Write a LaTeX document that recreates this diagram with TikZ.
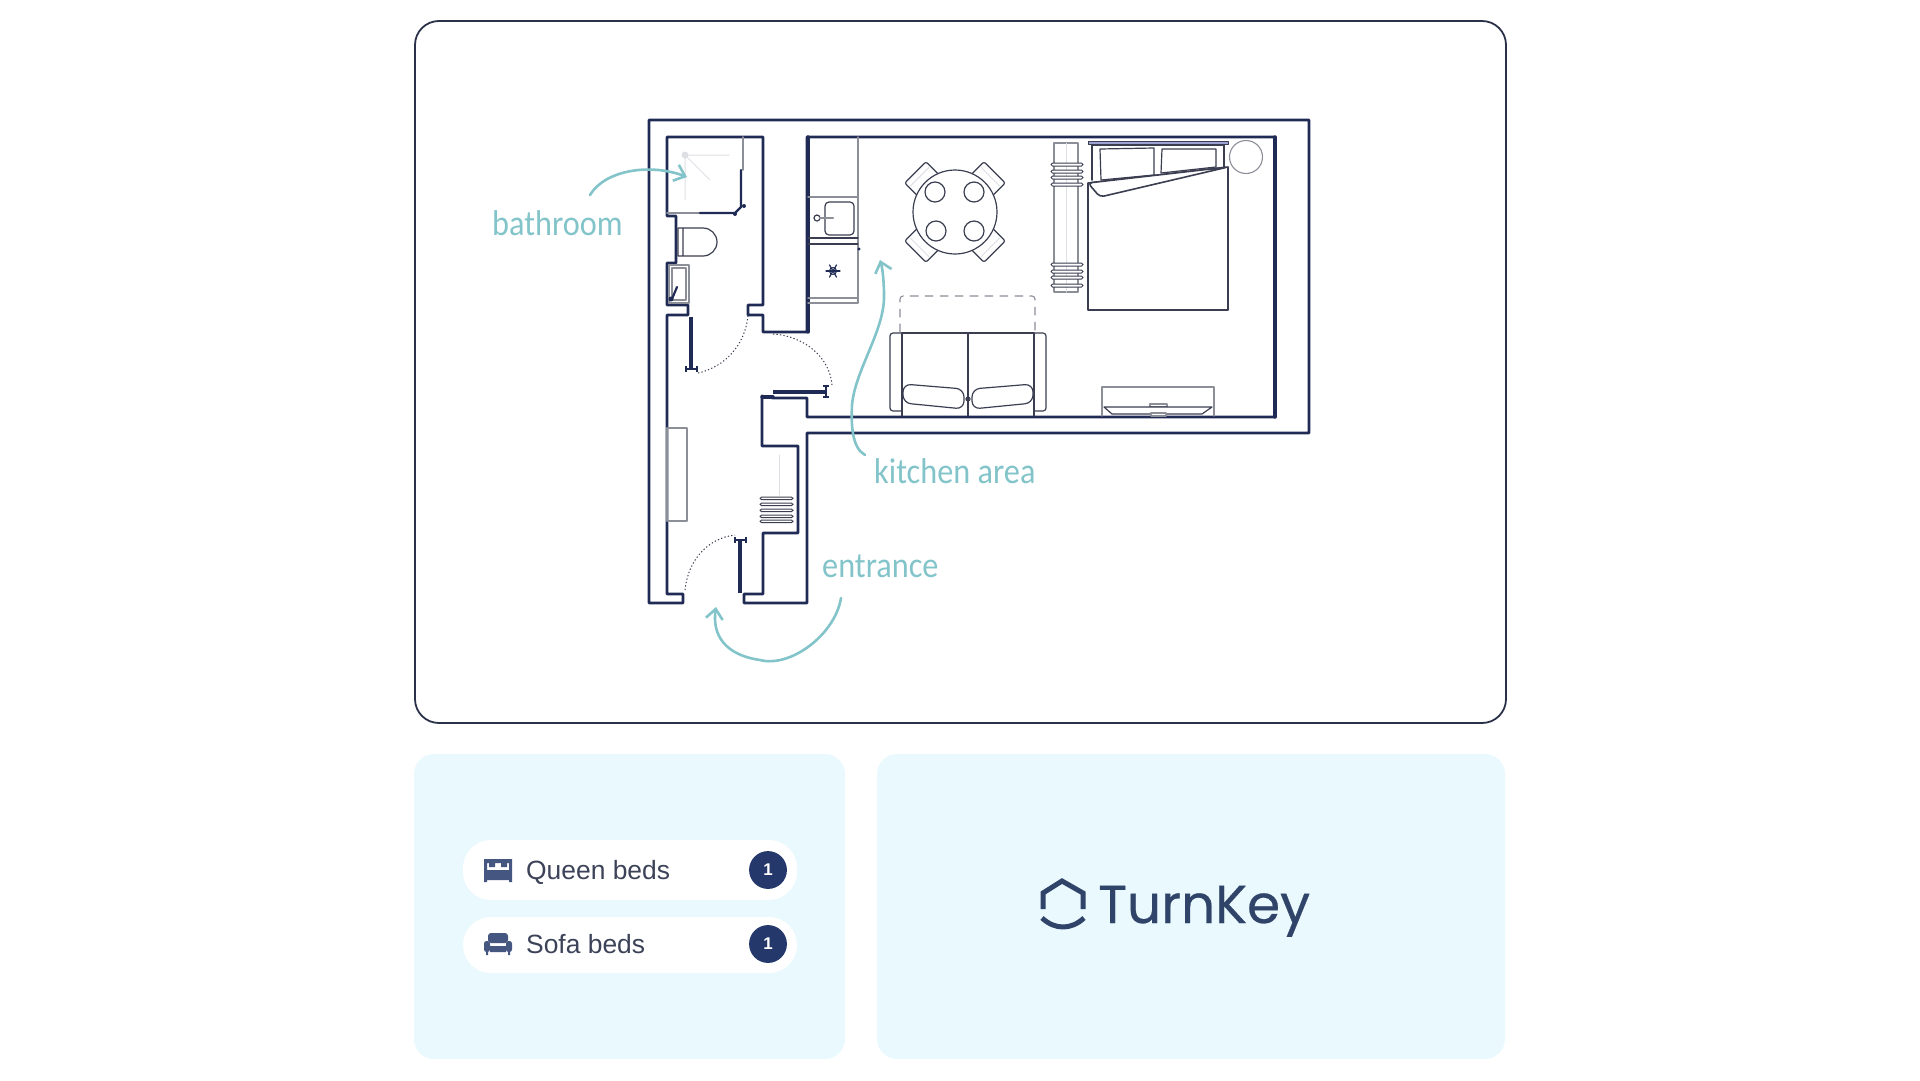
\documentclass[tikz,border=0pt]{standalone}
\usepackage{fontspec}
\setmainfont{Liberation Sans}
\newfontfamily\handfont[FakeStretch=0.9]{Carlito}
\newfontfamily\logofont[FakeBold=0.5]{Poppins}
\usetikzlibrary{arrows.meta}
\definecolor{wallcol}{HTML}{1F2A55}
\definecolor{framecol}{HTML}{2A3148}
\definecolor{panelcol}{HTML}{E9F9FE}
\definecolor{tealcol}{HTML}{82C4C9}
\definecolor{greycol}{HTML}{8C8E98}
\definecolor{palecol}{HTML}{DEDFE4}
\definecolor{linecol}{HTML}{3A3E50}
\definecolor{textcol}{HTML}{3C4258}
\definecolor{badgecol}{HTML}{24386B}
\definecolor{logocol}{HTML}{2F4468}
\definecolor{headcol}{HTML}{9CA2D2}
\tikzset{
  wall/.style={draw=wallcol,line width=2.7},
  doorpanel/.style={draw=wallcol,line width=3.6,line cap=butt},
  doorswing/.style={draw=linecol,line width=1,line cap=butt,dash pattern=on 1.3 off 2.2},
  furn/.style={draw=linecol,line width=1.2},
  thin furn/.style={draw=greycol,line width=1.1},
  pale/.style={draw=palecol,line width=1},
  guide/.style={draw=tealcol,line width=2.6,-{Straight Barb[length=10pt,width=17pt,line width=2.6]}},
  guidetext/.style={text=tealcol,font=\handfont\fontsize{36}{40}\selectfont,inner sep=0pt},
  pilltext/.style={text=textcol,font=\fontsize{26.5}{30}\selectfont,anchor=west,inner sep=0pt},
  pill/.style={fill=white,rounded corners=28},
  badge/.style={circle,fill=badgecol,text=white,minimum size=38,inner sep=0pt,font=\bfseries\fontsize{17}{20}\selectfont},
  panel/.style={fill=panelcol,rounded corners=20},
  icon/.style={fill=badgecol!85!white},
}
\begin{document}
\begin{tikzpicture}[x=1bp,y=-1bp,line cap=round,line join=round]
      \useasboundingbox (0,0) rectangle (1920,1080);
      % frame and panels
      \draw[framecol,line width=1.8,rounded corners=24] (415,21) rectangle (1506,723);
      \fill[panel] (414,754) rectangle (845,1059);
      \fill[panel] (877,754) rectangle (1505,1059);

      % walls
      \draw[wall] (649,120)--(1309,120)--(1309,433)--(807,433)--(807,603)--(744,603)
            --(744,594)--(763,594)--(763,533)--(798,533)--(798,446)--(762,446)--(762,396)
            --(773,398)--(807,398)--(807,417)--(1275,417)--(1275,137)--(807,137)--(807,332)
            --(763,332)--(763,315)--(748,315)--(748,305)--(763,305)--(763,137)--(667,137)
            --(667,216)--(676,216)--(676,263)--(667,263)--(667,305)--(688,305)--(688,315)
            --(667,315)--(667,594)--(683,594)--(683,603)--(649,603)--cycle;
      \draw[wall,line width=3.4] (808,137)--(808,332) (1275,137)--(1275,417) (762,397)--(773,397);

      % doors
      \draw[doorpanel] (691,317)--(691,370) (773,392)--(827,392) (740,540)--(740,593);
      \draw[doorpanel,line width=2.4] (686,369)--(698,369) (686,366)--(686,372) (697,366)--(697,372)
            (826,386)--(826,397) (823,386)--(829,386) (823,397)--(829,397)
            (735,540)--(746,540) (735,537)--(735,543) (746,537)--(746,543);
      \draw[doorswing] (698,373) .. controls (725,367) and (745,345) .. (748,316);
      \draw[doorswing] (773,334) .. controls (805,336) and (830,358) .. (832,385);
      \draw[doorswing] (685,590) .. controls (688,560) and (708,538) .. (735,535);

      % hall
      \draw[thin furn] (667,428) rectangle (687,521);
      \draw[pale] (779,455)--(779,495);
      \foreach \y in {497,503,509,515,520}
        \draw[furn,line width=1,rounded corners=1.5] (760,\y) rectangle (793,\y+2.6);

      % bathroom
      \draw[pale] (685,155)--(729,155) (685,155)--(710,180) (685,155)--(685,200);
      \fill[palecol] (685,155) circle (3.5);
      \draw[thin furn,line width=1.6] (743,137)--(743,170) (667,213)--(700,213);
      \draw[wall,line width=2.2] (741,170)--(741,207)--(735,213)--(700,213);
      \fill[wallcol] (744,206) circle (2) (735,214) circle (2);
      \draw[furn] (678,228)--(703,228) arc (-90:90:14) --(678,256)--cycle (683,228)--(683,256);
      \draw[thin furn] (669,265) rectangle (689,303);
      \draw[thin furn] (672,268) rectangle (686,300);
      \draw[wall,line width=2.2] (672,299)--(677,287);
      \fill[wallcol] (671,299) circle (2.5);

      % kitchen
      \draw[thin furn,line width=1.5] (858,137)--(858,303)--(808,303) (808,197)--(858,197) (808,298)--(858,298);
      \draw[furn] (808,238)--(858,238) (808,244)--(858,244);
      \draw[furn,rounded corners=4] (825,202) rectangle (854,235);
      \draw[furn] (817,218) circle (3);
      \draw[thin furn,line width=2.4] (820,218)--(833,218);
      \fill[wallcol] (859,249) circle (1.6);
      \foreach \ang in {0,60,120}
        \draw[wall,line width=1.2] (833,271) ++(\ang:7)--++(\ang+180:14);
      \draw[wall,line width=1] (833,271) circle (3.5);

      % table and chairs
      \foreach \ang in {45,135,225,315}{
        \begin{scope}[shift={(955,212)},rotate=\ang]
          \draw[furn,fill=white,rounded corners=2] (36,-15)--(56,-15)--(56,15)--(36,15)--cycle;
          \draw[pale] (50,-13)--(50,13);
        \end{scope}
      }
      \draw[furn,fill=white] (955,212) circle (42);
      \draw[furn] (935,192) circle (10) (974,192) circle (10) (936,231) circle (10) (974,231) circle (10);

      % sofa
      \draw[thin furn,dash pattern=on 8 off 7,rounded corners=3] (900,332)--(900,296)--(1035,296)--(1035,332);
      \draw[furn,rounded corners=3] (902,333)--(890,333)--(890,411)--(902,411);
      \draw[furn,rounded corners=3] (1034,333)--(1046,333)--(1046,411)--(1034,411);
      \draw[furn] (902,416)--(902,333)--(1034,333)--(1034,416) (968,333)--(968,416);
      \draw[furn,fill=white,rounded corners=8] (903,384)--(964,389)--(964,409)--(903,403)--cycle;
      \draw[furn,fill=white,rounded corners=8] (972,389)--(1033,384)--(1033,403)--(972,409)--cycle;
      \draw[furn] (968,399) circle (2);

      % rail
      \draw[thin furn] (1054,143) rectangle (1078,292);
      \draw[pale] (1066,143)--(1066,292);
      \foreach \y in {163,170,176,183,263,270,276,284}
        \draw[furn,line width=1,fill=white,rounded corners=1.5] (1051,\y) rectangle (1083,\y+3);

      % bed
      \draw[draw=linecol,fill=headcol,line width=1] (1088,141) rectangle (1228,144.5);
      \draw[furn,line width=1.6] (1092,145)--(1092,180) (1224,145)--(1224,167) (1092,145)--(1224,145);
      \draw[furn] (1100,149)--(1154,148)--(1154,175)--(1101,180)--cycle;
      \draw[furn] (1162,149)--(1216,149)--(1216,167)--(1161,173)--cycle;
      \draw[furn,line width=1.6,fill=white] (1088,183)--(1088,310)--(1228,310)--(1228,167)--cycle;
      \draw[furn,line width=1.6,fill=white,rounded corners=4] (1228,167)--(1100,197)--(1088,183)--cycle;
      \draw[thin furn] (1246,157) circle (16.5);

      % tv
      \draw[thin furn] (1102,416)--(1102,387)--(1214,387)--(1214,416);
      \draw[thin furn] (1150,404) rectangle (1167,407);
      \draw[furn,fill=white] (1104,407)--(1212,407)--(1202,414)--(1112,414)--cycle;
      \draw[thin furn,fill=white] (1151,413) rectangle (1166,416);

      % labels and arrows
      \node[guidetext,anchor=base west] (bathroomlabel) at (492,235) {bathroom};
      \node[guidetext,anchor=base west] (kitchenlabel) at (874,483) {kitchen area};
      \node[guidetext,anchor=base west] (entrancelabel) at (822,577) {entrance};
      \draw (590,195) coordinate (bathstart) (687,177) coordinate (bathtip)
            (865,455) coordinate (kitchenstart) (880,260) coordinate (kitchentip)
            (841,598) coordinate (entrystart) (716,607) coordinate (entrytip);
      \draw[guide] (bathstart) .. controls (605,170) and (650,163) .. (bathtip);
      \draw[guide] (kitchenstart) .. controls (852,448) and (851,425) .. (852,405)
            .. controls (855,370) and (885,330) .. (884,295) .. controls (884,285) and (883,270) .. (kitchentip);
      \draw[guide] (entrystart) .. controls (835,635) and (790,668) .. (760,660)
            .. controls (725,655) and (712,635) .. (entrytip);

      % bed counts
      \fill[pill] (463,840) rectangle (797,900);
      \fill[pill] (463,917) rectangle (797,973);
      \node[pilltext] (queenlabel) at (526,872) {Queen beds};
      \node[pilltext] (sofalabel) at (526,944) {Sofa beds};
      \node[badge] (queencount) at (768,870) {1};
      \node[badge] (sofacount) at (768,944) {1};
      % bed icon
      \fill[icon] (484,859) rectangle (512,863) (484,859) rectangle (487,870)
            (509,859) rectangle (512,870) (489,863) rectangle (495,867) (501,863) rectangle (507,867)
            (484,870) rectangle (512,880) (484,880) rectangle (487,882) (509,880) rectangle (512,882);
      % sofa icon
      \fill[icon,rounded corners=3] (488,933) rectangle (508,943);
      \fill[icon,rounded corners=2.5] (484,941) rectangle (490,952) (506,941) rectangle (512,952);
      \fill[icon] (490,946) rectangle (506,952) (486,952) rectangle (488,955) (508,952) rectangle (510,955);

      % logo
      \draw[logocol,line width=5,line cap=butt,line join=miter] (1043,909)--(1043,893)--(1062,881)--(1083,893)--(1083,909);
      \draw[logocol,line width=5,line cap=butt] (1042,918) .. controls (1055,930) and (1071,930) .. (1084,918);
      \node[text=logocol,font=\logofont\fontsize{53.5}{60}\selectfont,anchor=base west,inner sep=0pt] (logotext) at (1098,923) {TurnKey};
\end{tikzpicture}
\end{document}
